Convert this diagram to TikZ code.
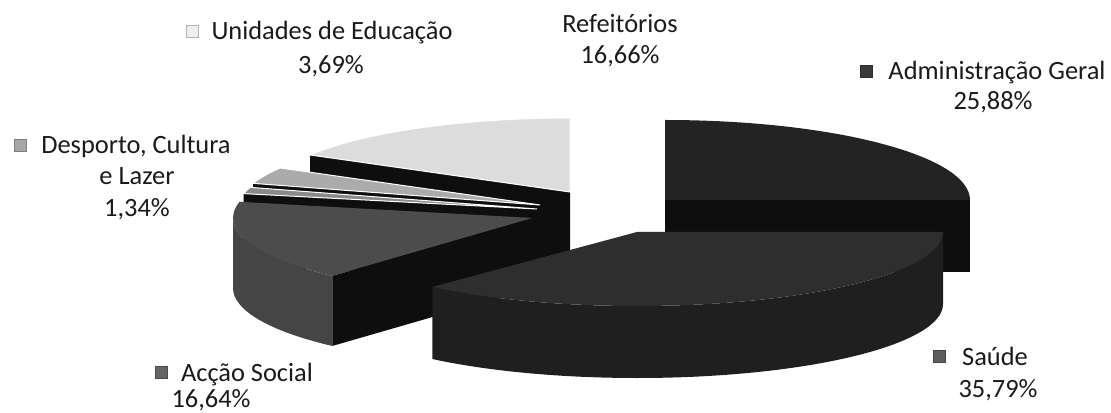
\documentclass[tikz,border=0pt]{standalone}
\usepackage{fontspec}
\setmainfont{Carlito}
\usetikzlibrary{positioning}

\definecolor{refcol}{HTML}{DCDCDC}
\definecolor{unicol}{HTML}{ABABAB}
\definecolor{despcol}{HTML}{8A8A8A}
\definecolor{accol}{HTML}{4C4C4C}
\definecolor{acwall}{HTML}{454545}
\definecolor{admcol}{HTML}{232323}
\definecolor{saucol}{HTML}{2E2E2E}
\definecolor{sauwall}{HTML}{1F1F1F}
\definecolor{cutcol}{HTML}{0E0E0E}
\definecolor{txtcol}{HTML}{1A1A1A}
\definecolor{admkeycol}{HTML}{3A3A3A}
\definecolor{unikeycol}{HTML}{EEEEEE}
\definecolor{despkeycol}{HTML}{A6A6A6}
\definecolor{ackeycol}{HTML}{666666}
\definecolor{saukeycol}{HTML}{5E5E5E}

\tikzset{
  lbl/.style={font=\fontsize{13.2}{15.5}\selectfont, text=txtcol, inner sep=0pt, anchor=base},
  keybox/.style={minimum size=6pt, inner sep=0pt, anchor=south west, fill=#1, draw=#1!75!black},
  topface/.style={fill=#1, draw=white, line width=0.5pt},
}

\begin{document}
\begin{tikzpicture}[x=0.5pt,y=0.5pt]
\useasboundingbox (0,0) rectangle (1111,412);

% Refeitorios
\coordinate (rc) at (570,220);
\fill[cutcol] (rc) -- ++(0,-72) -- ++(150:300 and 74) -- ++(0,72) -- cycle;
\path[topface=refcol] (rc) -- ++(90:300 and 74) arc[start angle=90,end angle=150,x radius=300,y radius=74] -- cycle;

% Unidades de Educacao
\coordinate (uc) at (540,207);
\fill[cutcol] (uc) -- ++(0,-72) -- ++(163:300 and 74) -- ++(0,72) -- cycle;
\path[topface=unicol] (uc) -- ++(150:300 and 74) arc[start angle=150,end angle=163,x radius=300,y radius=74] -- cycle;

% Desporto, Cultura e Lazer
\coordinate (dc) at (537,203);
\fill[cutcol] (dc) -- ++(0,-72) -- ++(168:300 and 74) -- ++(0,72) -- cycle;
\path[topface=despcol] (dc) -- ++(163:300 and 74) arc[start angle=163,end angle=168,x radius=300,y radius=74] -- cycle;

% Accao Social
\coordinate (ac) at (533,194);
\fill[acwall] (ac) ++(180:300 and 78) arc[start angle=180,end angle=228,x radius=300,y radius=78]
  -- ++(0,-70) arc[start angle=228,end angle=180,x radius=300,y radius=78] -- cycle;
\fill[accol] (ac) -- ++(168:300 and 78) arc[start angle=168,end angle=228,x radius=300,y radius=78] -- cycle;
\fill[cutcol] (ac) -- ++(0,-70) -- ++(228:300 and 78) -- ++(0,70) -- cycle;

% Administracao Geral
\coordinate (gc) at (665,212);
\fill[cutcol] (gc) rectangle ++(305,-72);
\fill[admcol] (gc) -- ++(0,80) arc[start angle=90,end angle=0,x radius=305,y radius=80] -- cycle;

% Saude
\coordinate (sc) at (637,180);
\fill[sauwall] (sc) ++(228:306 and 74) arc[start angle=228,end angle=360,x radius=306,y radius=74]
  -- ++(0,-72) arc[start angle=360,end angle=228,x radius=306,y radius=74] -- cycle;
\fill[saucol] (sc) -- ++(228:306 and 74) arc[start angle=228,end angle=360,x radius=306,y radius=74] -- cycle;

% labels
\node[lbl] (refname) at (620,379) {Refeitórios};
\node[lbl] (refpct) at (620,348) {16,66\%};

\node[lbl] (admname) at (997,332) {Administração Geral};
\node[lbl] (admpct) at (993,302) {25,88\%};
\node[keybox=admkeycol] (admkey) at (860,334) {};

\node[lbl] (uniname) at (332,372) {Unidades de Educação};
\node[lbl] (unipct) at (331,338) {3,69\%};
\node[keybox=unikeycol] (unikey) at (186,374) {};

\node[lbl] (despname) at (136,258) {Desporto, Cultura};
\node[lbl] (desplaz) at (137,227) {e Lazer};
\node[lbl] (desppct) at (137,195) {1,34\%};
\node[keybox=despkeycol] (despkey) at (14,260) {};

\node[lbl] (acname) at (247,31) {Acção Social};
\node[lbl] (acpct) at (211,5) {16,64\%};
\node[keybox=ackeycol] (ackey) at (155,33) {};

\node[lbl] (sauname) at (995,47) {Saúde};
\node[lbl] (saupct) at (998,15) {35,79\%};
\node[keybox=saukeycol] (saukey) at (933,49) {};
\end{tikzpicture}
\end{document}
